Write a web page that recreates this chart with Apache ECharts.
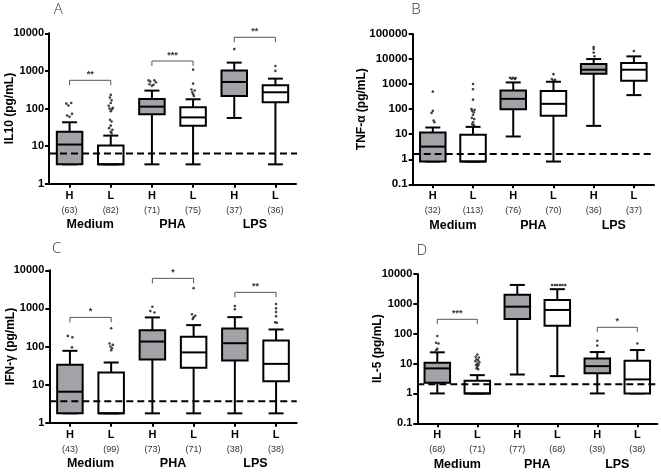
<!DOCTYPE html>
<html><head><meta charset="utf-8">
<script src="https://cdn.jsdelivr.net/npm/echarts@6/dist/echarts.min.js"></script>
<style>html,body{margin:0;padding:0;background:#fff}#c{width:661px;height:472px}</style>
</head><body><div id="c"></div>
<script>
// ---- shared categories ----
const levels = ['H', 'L', 'H', 'L', 'H', 'L'];
const groups = ['Medium', 'PHA', 'LPS'];

// ---- Panel A: IL10 ----  box rows: [min, Q1, median, Q3, max]
const il10Box = [[3.27, 3.27, 11, 24, 43], [3.27, 3.27, 3.27, 10.3, 19], [3.27, 70, 112, 179, 299], [3.27, 35, 58, 108, 176], [56, 216, 508, 1018, 1660], [3.27, 146, 270, 414, 623]];
const il10Counts = [63, 82, 71, 75, 37, 36];
const il10Outliers = [[-0.08, 135], [0.04, 140], [-0.03, 120], [0.06, 72], [-0.06, 65], [0.0, 60],
  [1.0, 230], [0.98, 195], [1.02, 165], [1.0, 140], [0.95, 118], [1.05, 105], [0.97, 100], [1.03, 95], [1.0, 85], [0.98, 50], [1.02, 45], [1.0, 35], [0.96, 30], [1.04, 27], [1.0, 24], [1.02, 22],
  [1.92, 560], [2.06, 560], [1.96, 520], [2.1, 500], [1.94, 440], [2.04, 430], [2.0, 400],
  [3.0, 1080], [3.0, 460], [2.96, 320], [3.04, 300], [2.98, 270], [3.0, 240], [3.02, 215],
  [4.0, 3800], [5.0, 1350], [5.0, 1000]];
const il10Sig = [[0, 1, 562], [2, 3, 1833], [4, 5, 7830]];
const il10SigLabels = ['**', '***', '**'];
const il10Cutoff = 6.4;

// ---- Panel B: TNF-alpha ----
const tnfBox = [[0.81, 0.81, 3.2, 11.7, 18.5], [0.81, 0.81, 0.81, 9.4, 19.6], [8.1, 100, 258, 558, 1166], [0.81, 54, 163, 525, 1240], [21.5, 2590, 3750, 6300, 10000], [363, 1360, 3750, 6900, 12800]];
const tnfCounts = [32, 113, 76, 70, 36, 37];
const tnfOutliers = [[0, 500], [0, 85], [-0.03, 70], [0.02, 35], [0.04, 30],
  [1, 1000], [1, 620], [1, 240], [0.96, 100], [1.04, 95], [0.98, 85], [1.02, 75], [1, 60], [0.97, 45], [1.03, 40], [1, 30], [0.98, 25], [1.02, 23],
  [1.92, 1800], [2.0, 1800], [2.06, 1750], [1.96, 1650], [2.04, 1600],
  [3, 2500], [2.96, 1600], [3.04, 1500], [3, 1400],
  [4, 30000], [4, 25000], [4, 18000], [4.02, 13000], [5, 21000]];
const tnfSig = [];
const tnfSigLabels = [];
const tnfCutoff = 1.63;

// ---- Panel C: IFN-gamma ----
const ifnBox = [[1.76, 1.76, 6.5, 33, 77], [1.76, 1.76, 1.76, 20.7, 38], [1.76, 45.5, 135, 265, 580], [1.76, 27.5, 70, 180, 364], [1.76, 43, 122, 298, 590], [1.76, 12.2, 35, 144, 280]];
const ifnCounts = [43, 99, 73, 71, 38, 38];
const ifnOutliers = [[-0.05, 190], [0.06, 175], [0.05, 95],
  [1, 300], [0.96, 120], [1.04, 110], [0.98, 100], [1.02, 90], [1, 80],
  [2, 1100], [1.95, 850], [2.05, 780],
  [3, 3400], [2.96, 700], [3.04, 640], [3, 580], [2.98, 530],
  [4, 1150], [4, 950],
  [5, 1300], [5, 1000], [5, 800], [5, 620], [4.98, 430], [5.02, 420]];
const ifnSig = [[0, 1, 580], [2, 3, 6150], [4, 5, 2640]];
const ifnSigLabels = ['*', '*', '**'];
const ifnCutoff = 3.64;

// ---- Panel D: IL-5 ----
const il5Box = [[1.0, 2.27, 6.9, 10.6, 23.8], [1.0, 1.0, 1.0, 2.65, 4.1], [4.3, 310, 805, 2000, 4300], [3.8, 186, 625, 1350, 3100], [1.0, 4.7, 8.2, 14.9, 24.3], [1.0, 1.0, 2.95, 12.4, 28.4]];
const il5Counts = [68, 71, 77, 68, 39, 38];
const il5Outliers = [[0, 84], [-0.03, 50], [0.03, 47], [0, 31], [-0.03, 28],
  [1, 20], [0.96, 17], [1.04, 16], [0.98, 14], [1.02, 13], [0.95, 12], [1.05, 11], [1, 10], [0.97, 9], [1.03, 9], [1, 8], [0.98, 7], [1.02, 6.5],
  [2.87, 4300], [2.94, 4300], [3.0, 4300], [3.07, 4300], [3.13, 4300], [3.2, 4300],
  [4, 58], [4, 40], [5, 47]];
const il5Sig = [[0, 1, 304], [4, 5, 164]];
const il5SigLabels = ['***', '*'];
const il5Cutoff = 2.05;

const FONT = '"Liberation Sans", Arial, sans-serif';

function renderBox(params, api) {
  const x = api.value(0);
  const pMin = api.coord([x, api.value(1)]);
  const pQ1 = api.coord([x, api.value(2)]);
  const pMed = api.coord([x, api.value(3)]);
  const pQ3 = api.coord([x, api.value(4)]);
  const pMax = api.coord([x, api.value(5)]);
  const cx = pMin[0], hw = 12.75, cw = 7.5;
  const fill = (Math.round(x) % 2 === 0) ? '#a2a2a8' : '#ffffff';
  const ls = { stroke: '#000', lineWidth: 2 };
  return { type: 'group', children: [
    { type: 'line', shape: { x1: cx, y1: pMax[1], x2: cx, y2: pQ3[1] }, style: ls },
    { type: 'line', shape: { x1: cx - cw, y1: pMax[1], x2: cx + cw, y2: pMax[1] }, style: ls },
    { type: 'line', shape: { x1: cx, y1: pQ1[1], x2: cx, y2: pMin[1] }, style: ls },
    { type: 'line', shape: { x1: cx - cw, y1: pMin[1], x2: cx + cw, y2: pMin[1] }, style: ls },
    { type: 'rect', shape: { x: cx - hw, y: pQ3[1], width: 2 * hw, height: pQ1[1] - pQ3[1] }, style: { fill: fill, stroke: '#000', lineWidth: 2 } },
    { type: 'line', shape: { x1: cx - hw, y1: pMed[1], x2: cx + hw, y2: pMed[1] }, style: ls }
  ] };
}

function sigRenderer(labels) {
  return function (params, api) {
    const a = api.coord([api.value(0), api.value(2)]);
    const b = api.coord([api.value(1), api.value(2)]);
    return { type: 'group', children: [
      { type: 'polyline', shape: { points: [[a[0], a[1] + 5], [a[0], a[1]], [b[0], b[1]], [b[0], b[1] + 5]] }, style: { stroke: '#555', lineWidth: 1, fill: 'none' } },
      { type: 'text', style: { text: labels[params.dataIndex], x: (a[0] + b[0]) / 2, y: a[1] - 1, align: 'center', verticalAlign: 'bottom', textAlign: 'center', textVerticalAlign: 'bottom', font: 'bold 9px ' + FONT, fill: '#333' } }
    ] };
  };
}

const panels = [
  { grid: { left: 49, top: 33.3, width: 247, height: 150.4 }, min: 1, max: 10000, dec: 4, name: 'IL10 (pg/mL)', gap: 33, lsize: 11,
    box: il10Box, counts: il10Counts, out: il10Outliers, sig: il10Sig, sigL: il10SigLabels, cut: il10Cutoff, cutEnd: 6.28 },
  { grid: { left: 412.7, top: 34, width: 241.3, height: 150.3 }, min: 0.1, max: 100000, dec: 6, name: 'TNF-α (pg/mL)', gap: 45, lsize: 11.5,
    box: tnfBox, counts: tnfCounts, out: tnfOutliers, sig: tnfSig, sigL: tnfSigLabels, cut: tnfCutoff, cutEnd: 5.5 },
  { grid: { left: 49.3, top: 270.3, width: 247.4, height: 152.4 }, min: 1, max: 10000, dec: 4, name: 'IFN-γ (pg/mL)', gap: 33, lsize: 11,
    box: ifnBox, counts: ifnCounts, out: ifnOutliers, sig: ifnSig, sigL: ifnSigLabels, cut: ifnCutoff, cutEnd: 5.5 },
  { grid: { left: 417.3, top: 274, width: 240, height: 149.3 }, min: 0.1, max: 10000, dec: 5, name: 'IL-5 (pg/mL)', gap: 34, lsize: 11,
    box: il5Box, counts: il5Counts, out: il5Outliers, sig: il5Sig, sigL: il5SigLabels, cut: il5Cutoff, cutEnd: 5.5 }
];

const option = { animation: false, backgroundColor: '#fff', textStyle: { fontFamily: FONT },
  grid: [], xAxis: [], yAxis: [], series: [], graphic: [] };

panels.forEach(function (p, k) {
  option.grid.push(Object.assign({ containLabel: false, outerBoundsMode: 'none' }, p.grid));
  option.xAxis.push({ gridIndex: k, type: 'category', data: levels, position: 'bottom', boundaryGap: true,
    axisLine: { show: true, onZero: false, lineStyle: { color: '#000', width: 2 } },
    axisTick: { show: true, alignWithLabel: true, length: 4, lineStyle: { color: '#000', width: 2 } },
    splitLine: { show: false },
    axisLabel: { margin: 5, interval: 0, formatter: function (v, i) { return '{h|' + v + '}\n{n|(' + p.counts[i] + ')}'; },
      rich: { h: { fontWeight: 'bold', fontSize: 11, lineHeight: 14, color: '#000', fontFamily: FONT },
              n: { fontSize: 9, lineHeight: 15, color: '#333', fontFamily: FONT } } } });
  option.xAxis.push({ gridIndex: k, type: 'value', min: -0.5, max: 5.5, show: false, axisLine: { onZero: false } });
  option.xAxis.push({ gridIndex: k, type: 'category', data: groups, position: 'bottom',
    axisLine: { show: false, onZero: false }, axisTick: { show: false }, splitLine: { show: false },
    axisLabel: { margin: 34, interval: 0, fontWeight: 'bold', fontSize: 12.5, lineHeight: 14, color: '#000' } });
  option.yAxis.push({ gridIndex: k, type: 'log', logBase: 10, min: p.min, max: p.max, splitNumber: p.dec,
    name: p.name, nameLocation: 'middle', nameGap: p.gap, nameMoveOverlap: false,
    nameTextStyle: { fontWeight: 'bold', fontSize: 12, color: '#000', fontFamily: FONT },
    axisLine: { show: true, onZero: false, lineStyle: { color: '#000', width: 2 } },
    axisTick: { show: true, length: 4, lineStyle: { color: '#000', width: 2 } },
    minorTick: { show: false }, splitLine: { show: false },
    axisLabel: { margin: 5, fontWeight: 'bold', fontSize: p.lsize, color: '#000',
      formatter: function (v) { return String(Number(Number(v).toPrecision(6))); } } });
  const xi = 3 * k + 1;
  option.series.push({ type: 'custom', xAxisIndex: xi, yAxisIndex: k, renderItem: renderBox,
    data: p.box.map(function (b, i) { return [i].concat(b); }), encode: { x: 0, y: [1, 2, 3, 4, 5] }, z: 2, silent: true });
  option.series.push({ type: 'scatter', xAxisIndex: xi, yAxisIndex: k, data: p.out, symbolSize: 2.6,
    itemStyle: { color: '#111' }, z: 3, silent: true });
  option.series.push({ type: 'line', xAxisIndex: xi, yAxisIndex: k, data: [[-0.5, p.cut], [p.cutEnd, p.cut]],
    symbol: 'none', clip: false, lineStyle: { color: '#000', width: 2, type: [7, 4] }, z: 4, silent: true });
  if (p.sig.length) {
    option.series.push({ type: 'custom', xAxisIndex: xi, yAxisIndex: k, renderItem: sigRenderer(p.sigL),
      data: p.sig, encode: { x: [0, 1], y: 2 }, z: 3, silent: true, clip: false });
  }
});

const letters = [['A', 58.3, 9.5], ['B', 416, 10], ['C', 56.7, 248.7], ['D', 421.7, 251]];
letters.forEach(function (l) {
  option.graphic.push({ type: 'text', left: null, x: l[1], y: l[2], style: { text: l[0], x: 0, y: 0, align: 'center', verticalAlign: 'middle',
    textAlign: 'center', textVerticalAlign: 'middle', font: '300 15px "Open Sans", "DejaVu Sans", sans-serif', fill: '#333' } });
});

const chart = echarts.init(document.getElementById('c'), null, { renderer: 'canvas', width: 661, height: 472 });
chart.setOption(option);
</script>
</body></html>
